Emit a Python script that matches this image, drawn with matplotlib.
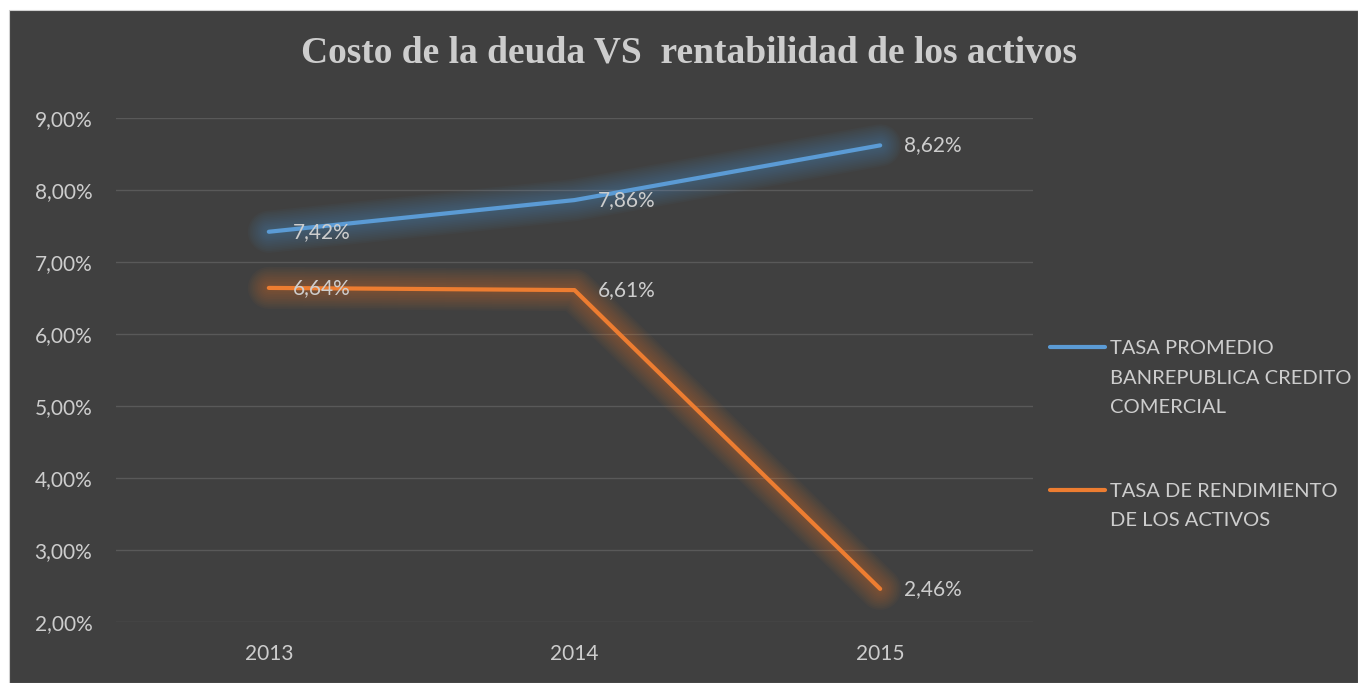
import matplotlib
matplotlib.use("Agg")
import matplotlib.pyplot as plt
from matplotlib.patches import Rectangle
from matplotlib.lines import Line2D

years = ["2013", "2014", "2015"]
tasa_banrep = [7.42, 7.86, 8.62]
tasa_activos = [6.64, 6.61, 2.46]
series_names = ["TASA PROMEDIO\nBANREPUBLICA CREDITO\nCOMERCIAL",
                "TASA DE RENDIMIENTO\nDE LOS ACTIVOS"]
yticks = [2, 3, 4, 5, 6, 7, 8, 9]

BG = "#404040"
TXT = "#CDCDCD"
BLUE = "#5B9BD5"
ORANGE = "#ED7D31"
GRID = "#595959"
FONT = "Lato"

W, H = 1358, 683
fig = plt.figure(figsize=(W / 100, H / 100), dpi=100, facecolor="white")
fig.add_artist(Rectangle((9 / W, 0), 1 - 9 / W, (H - 10) / H, transform=fig.transFigure,
                         facecolor=BG, edgecolor="#D0D0D0", linewidth=0.8, zorder=0))

ax = fig.add_axes([116 / W, (H - 622) / H, 917 / W, 504 / H])
ax.set_facecolor("none")
ax.set_xlim(-0.5, 2.5)
ax.set_ylim(2, 9)
ax.set_yticks(yticks)
ax.set_yticklabels([f"{v:.2f}".replace(".", ",") + "%" for v in yticks],
                   color=TXT, fontsize=15, fontfamily=FONT)
x = list(range(len(years)))
ax.set_xticks(x)
ax.set_xticklabels(years, color=TXT, fontsize=15, fontfamily=FONT)
ax.tick_params(axis="y", length=0, pad=17)
ax.tick_params(axis="x", length=0, pad=16)
ax.grid(axis="y", color=GRID, linewidth=1.0)
ax.set_axisbelow(True)
for s in ax.spines.values():
    s.set_visible(False)

for vals, col in [(tasa_banrep, BLUE), (tasa_activos, ORANGE)]:
    for i in range(12):
        ax.plot(x, vals, color=col, lw=4 + i * 2.4, alpha=0.035,
                solid_capstyle="round", solid_joinstyle="round", zorder=2)
    ax.plot(x, vals, color=col, lw=3, solid_capstyle="round",
            solid_joinstyle="round", zorder=3)
    for xi, v in zip(x, vals):
        ax.annotate(f"{v:.2f}".replace(".", ",") + "%", (xi, v), xytext=(17, 0),
                    textcoords="offset points", ha="left", va="center",
                    color=TXT, fontsize=15, fontfamily=FONT, zorder=4)

fig.text(689 / W, 1 - 53 / H, "Costo de la deuda VS  rentabilidad de los activos",
         ha="center", va="center", color=TXT, fontsize=27, fontweight="bold",
         fontfamily="Liberation Serif")

# legend
leg_items = [(series_names[0], BLUE, 347), (series_names[1], ORANGE, 490)]
for name, col, yp in leg_items:
    fig.add_artist(Line2D([1050 / W, 1105 / W], [1 - yp / H, 1 - yp / H],
                          transform=fig.transFigure, color=col, lw=3,
                          solid_capstyle="round"))
    for j, line in enumerate(name.split("\n")):
        fig.text(1110 / W, 1 - (yp + j * 29.5) / H, line, ha="left", va="center_baseline",
                 color=TXT, fontsize=14.5, fontfamily=FONT)

fig.savefig("out.png", dpi=100, facecolor="white")
